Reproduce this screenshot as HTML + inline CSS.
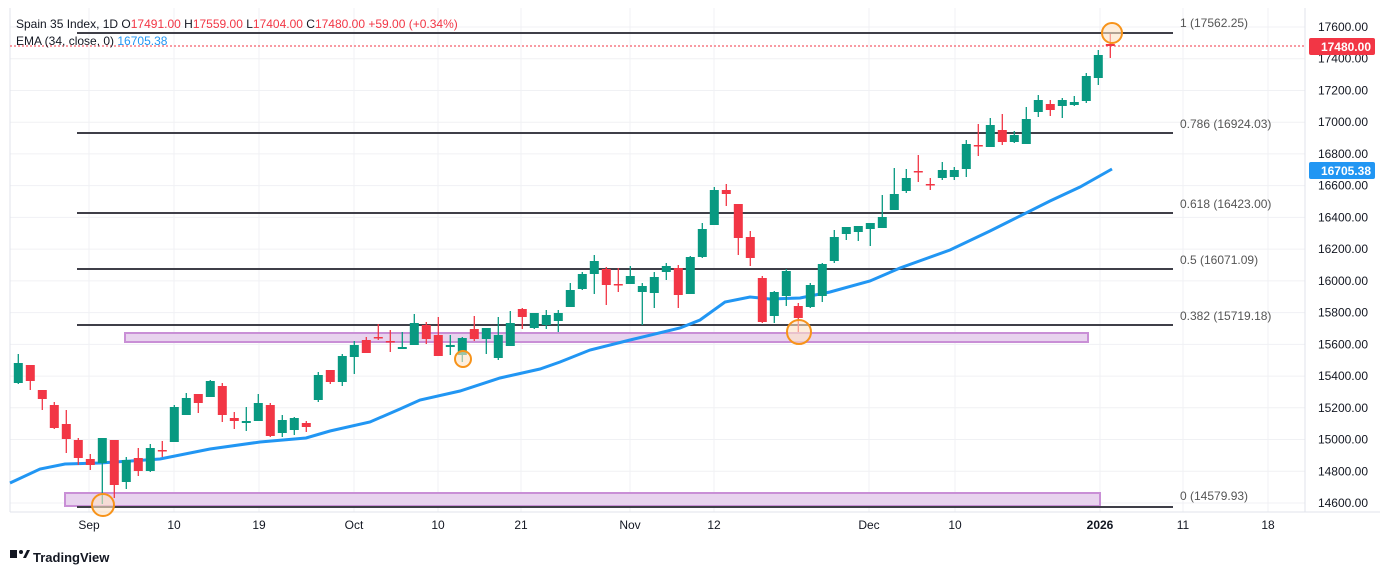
<!DOCTYPE html>
<html><head><meta charset="utf-8"><style>
body{margin:0;background:#fff;width:1388px;height:575px;overflow:hidden;font-family:"Liberation Sans",sans-serif}
svg text{font-family:"Liberation Sans",sans-serif}
</style></head><body>
<svg id="s" width="1388" height="575" xmlns="http://www.w3.org/2000/svg">
<rect x="0" y="0" width="1388" height="575" fill="#fff"/>
<g id="grid" stroke="#f0f1f4" stroke-width="1"></g>
<line x1="10" y1="512" x2="1380" y2="512" stroke="#e0e3eb"/>
<line x1="1305" y1="8" x2="1305" y2="512" stroke="#e0e3eb"/>
<line x1="10" y1="8" x2="10" y2="512" stroke="#e0e3eb"/>
<rect x="125" y="333" width="963" height="9" fill="#e8d3ee" stroke="#c98fd6" stroke-width="2"/>
<rect x="65" y="493" width="1035" height="13" fill="#e8d3ee" stroke="#c98fd6" stroke-width="2"/>
<g stroke="#3f3f48" stroke-width="2">
<line x1="77" y1="33" x2="1173" y2="33"/>
<line x1="77" y1="133" x2="1173" y2="133"/>
<line x1="77" y1="213" x2="1173" y2="213"/>
<line x1="77" y1="269" x2="1173" y2="269"/>
<line x1="77" y1="325" x2="1173" y2="325"/>
<line x1="77" y1="507" x2="1173" y2="507"/>
</g>
<g font-size="12" fill="#555">
<text x="1180" y="27">1 (17562.25)</text>
<text x="1180" y="128">0.786 (16924.03)</text>
<text x="1180" y="208">0.618 (16423.00)</text>
<text x="1180" y="264">0.5 (16071.09)</text>
<text x="1180" y="320">0.382 (15719.18)</text>
<text x="1180" y="500">0 (14579.93)</text>
</g>
<polyline fill="none" stroke="#2196f3" stroke-width="3" points="10,483 40,469 65,464 100,463 160,459 210,449 260,442 306,438 330,431 370,422 400,409 420,400 460,391 500,378 540,369 560,362 590,350 630,340 680,328 700,320 725,302 750,297 770,299 800,298 830,292 870,281 900,268 950,250 990,231 1010,221 1050,201 1080,187 1112,169"/>
<line x1="10" y1="46" x2="1305" y2="46" stroke="#f23645" stroke-dasharray="2,2"/>
<g id="c"></g>
<g fill="#fde3c4" fill-opacity="0.6" stroke="#f7931a" stroke-width="2">
<circle cx="103" cy="505" r="11"/>
<circle cx="463" cy="359" r="8"/>
<circle cx="799" cy="332" r="12"/>
<circle cx="1112" cy="33" r="10"/>
</g>
<g id="py" font-size="12" fill="#131722" text-anchor="end"></g>
<rect x="1309" y="38" width="66" height="17" rx="2" fill="#f23645"/>
<text x="1371" y="51" font-size="12" fill="#fff" text-anchor="end" font-weight="bold">17480.00</text>
<rect x="1309" y="162" width="66" height="17" rx="2" fill="#2196f3"/>
<text x="1371" y="175" font-size="12" fill="#fff" text-anchor="end" font-weight="bold">16705.38</text>
<g font-size="12" fill="#131722" text-anchor="middle">
<text x="89" y="529">Sep</text><text x="174" y="529">10</text><text x="259" y="529">19</text>
<text x="354" y="529">Oct</text><text x="438" y="529">10</text><text x="521" y="529">21</text>
<text x="630" y="529">Nov</text><text x="714" y="529">12</text><text x="869" y="529">Dec</text>
<text x="955" y="529">10</text><text x="1100" y="529" font-weight="bold">2026</text><text x="1183" y="529">11</text><text x="1268" y="529">18</text>
</g>
<text x="16" y="28" font-size="12" fill="#131722">Spain 35 Index, 1D  O<tspan fill="#f23645">17491.00</tspan> H<tspan fill="#f23645">17559.00</tspan> L<tspan fill="#f23645">17404.00</tspan> C<tspan fill="#f23645">17480.00 +59.00 (+0.34%)</tspan></text>
<text x="16" y="45" font-size="12" fill="#131722">EMA (34, close, 0)  <tspan fill="#2196f3">16705.38</tspan></text>
<g transform="translate(10,550)"><rect x="0" y="0" width="7" height="8" fill="#131722"/><circle cx="11" cy="2" r="2" fill="#131722"/><path d="M13,8 L17,0 L20,0 L16,8Z" fill="#131722"/></g>
<text x="33" y="562" font-size="13" fill="#131722" font-weight="bold">TradingView</text>
</svg>
<script>
var NS="http://www.w3.org/2000/svg";
function el(p,t,a){var e=document.createElementNS(NS,t);for(var k in a)e.setAttribute(k,a[k]);p.appendChild(e);return e;}
var g=document.getElementById('grid');
[89,174,259,354,438,521,630,714,869,955,1100,1183,1268].forEach(function(x){el(g,'line',{x1:x,y1:8,x2:x,y2:512});});
var py=document.getElementById('py');
for(var p=14600;p<=17600;p+=200){var y=27+(17600-p)*0.15867;el(g,'line',{x1:10,y1:y,x2:1305,y2:y});
if(p!=17400||true){var t=el(py,'text',{x:1368,y:y+4});t.textContent=p.toFixed(2);}}
// [color, bodyTop, bodyBot, wickHi, wickLo]
var C=[['g',363,383,354,384],['r',365,381,365,390],['r',390,399,390,410],['r',405,428,402,429],['r',424,439,410,453],['r',440,458,438,465],['r',459,465,454,470],['g',438,463,438,504],['r',440,485,440,498],['g',460,482,457,489],['r',458,471,448,476],['g',448,471,444,472],['r',450,451,441,457],['g',407,442,405,442],['g',398,415,393,415],['r',394,403,394,413],['g',381,397,380,397],['r',386,415,383,422],['r',418,421,412,429],['g',421,423,407,431],['g',403,421,394,421],['r',405,436,403,437],['g',420,433,415,437],['g',418,430,417,435],['r',423,427,421,432],['g',375,400,372,402],['r',370,382,370,384],['g',356,382,354,386],['g',345,357,341,374],
['r',340,353,337,353],['r',337,338,324,340],['r',341,342,330,352],['g',347,349,332,349],['g',323,345,314,345],['r',325,339,322,344],['r',335,356,317,356],['g',345,347,335,355],['g',338,355,337,362],['r',329,339,316,341],['g',328,339,328,354],['g',335,358,317,360],['g',323,346,311,346],['r',309,317,308,329],['g',313,328,313,329],['g',315,325,310,329],['g',313,321,310,332],['g',290,307,283,307],['g',274,289,272,290],['g',261,274,255,294],['r',269,285,267,305],['r',284,285,268,292],['g',276,284,266,284],['g',286,292,283,325],['g',277,293,272,308],['g',266,272,263,280],['r',268,295,265,308],['g',257,294,256,294],
['g',229,257,223,258],['g',190,225,187,225],['r',190,194,184,206],['r',204,238,204,255],['r',237,258,231,266],['r',278,322,276,323],['g',292,316,291,323],['g',271,296,269,306],['r',306,318,303,332],['g',285,307,283,308],['g',264,296,263,302],['g',237,261,230,263],['g',227,234,227,240],['g',226,232,226,241],['g',223,229,223,246],['g',217,228,195,228],['g',194,210,168,210],['g',178,191,169,193],['r',171,172,155,182],['r',184,185,178,190],['g',170,178,162,180],['g',170,177,167,180],['g',144,169,140,177],
['r',145,146,124,156],['g',125,147,118,147],['r',130,142,114,145],['g',135,142,131,143],['g',119,144,107,144],['g',100,112,95,117],['r',104,110,100,116],['g',100,106,98,118],['g',102,105,96,106],['g',76,101,73,103],['g',55,78,50,85],['r',44,46,34,58]];
var cg=document.getElementById('c');
C.forEach(function(c,i){var x=18.3+12*i;var col=c[0]=='g'?'#089981':'#f23645';
el(cg,'line',{x1:x,y1:c[3],x2:x,y2:c[4],stroke:col,'stroke-width':1.3});
var h=Math.max(c[2]-c[1],1.5);el(cg,'rect',{x:x-4.5,y:c[1],width:9,height:h,fill:col});});
</script>
</body></html>
